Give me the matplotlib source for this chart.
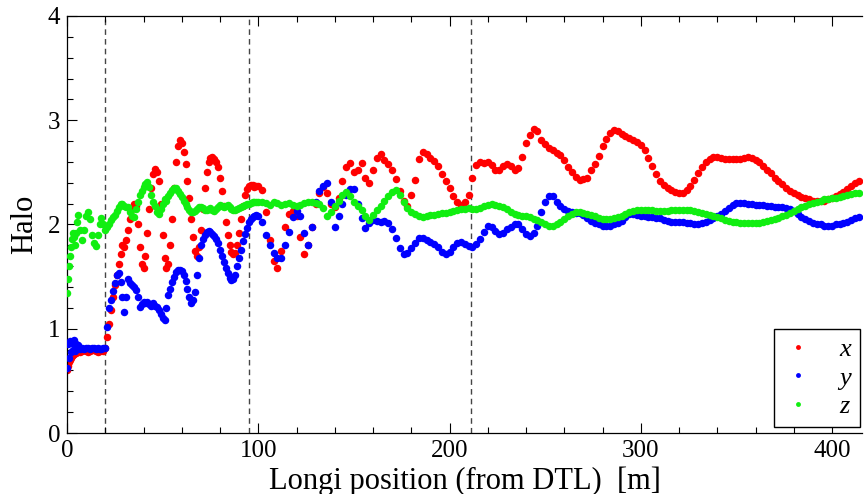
import matplotlib
matplotlib.use('Agg')
import matplotlib.pyplot as plt
from matplotlib.ticker import MultipleLocator

# sample positions along the linac [m]
pos_dtl = [0, 0.5, 1, 1.5, 2, 2.5, 3, 3.5, 4, 4.5, 5, 6, 7, 8, 9, 10, 11, 12, 13, 14, 15, 16, 17, 18, 19]
pos_mid = [20, 21, 22, 23, 24, 25, 26, 27, 28, 29, 30, 31, 32, 33, 34, 35, 36, 37, 38, 39,
           40, 41, 42, 43, 44, 45, 46, 47, 48, 49, 50, 51, 52, 53, 54, 55, 56, 57, 58, 59,
           60, 61, 62, 63, 64, 65, 66, 67, 68, 69, 70, 71, 72, 73, 74, 75, 76, 77, 78, 79,
           80, 81, 82, 83, 84, 85, 86, 87, 88, 89, 90, 91, 92, 93, 94, 95, 96, 97, 98, 99, 100]
pos_far = [102, 104, 106, 108, 110, 112, 114, 116, 118, 120, 122, 124, 126, 128, 130, 132, 134, 136, 138, 140,
           142, 144, 146, 148, 150, 152, 154, 156, 158, 160, 162, 164, 166, 168, 170, 172, 174, 176, 178, 180,
           182, 184, 186, 188, 190, 192, 194, 196, 198, 200, 202, 204, 206, 208, 210, 212, 214, 216, 218, 220,
           222, 224, 226, 228, 230, 232, 234, 236, 238, 240, 242, 244, 246, 248, 250, 252, 254, 256, 258, 260,
           262, 264, 266, 268, 270, 272, 274, 276, 278, 280, 282, 284, 286, 288, 290, 292, 294, 296, 298, 300,
           302, 304, 306, 308, 310, 312, 314, 316, 318, 320, 322, 324, 326, 328, 330, 332, 334, 336, 338, 340,
           342, 344, 346, 348, 350, 352, 354, 356, 358, 360, 362, 364, 366, 368, 370, 372, 374, 376, 378, 380,
           382, 384, 386, 388, 390, 392, 394, 396, 398, 400, 402, 404, 406, 408, 410, 412, 414]

halo_x = [0.60, 0.64, 0.68, 0.70, 0.72, 0.74, 0.75, 0.76, 0.77, 0.77, 0.78, 0.79, 0.78, 0.79, 0.80,
          0.79, 0.78, 0.79, 0.80, 0.80, 0.79, 0.78, 0.79, 0.80, 0.79,
          0.82, 0.92, 1.05, 1.18, 1.30, 1.42, 1.52, 1.62, 1.72, 1.80,
          1.78, 1.85, 1.95, 2.05, 2.15, 2.20, 2.18, 2.00, 1.78, 1.62,
          1.58, 1.70, 1.92, 2.15, 2.35, 2.48, 2.53, 2.50, 2.42, 2.20,
          1.90, 1.68, 1.58, 1.62, 1.80, 2.05, 2.35, 2.60, 2.75, 2.81,
          2.78, 2.70, 2.58, 2.42, 2.25, 2.05, 1.88, 1.75, 1.70, 1.78,
          1.95, 2.15, 2.35, 2.50, 2.60, 2.64, 2.65, 2.63, 2.60, 2.55,
          2.45, 2.32, 2.18, 2.02, 1.90, 1.80, 1.74, 1.72, 1.73, 1.80,
          1.92, 2.05, 2.18, 2.28, 2.34, 2.37, 2.38, 2.38, 2.36, 2.37,
          2.37,
          2.33, 2.12, 1.85, 1.65, 1.58, 1.75, 1.98, 2.10, 2.13, 2.08,
          1.88, 1.72, 1.80, 1.98, 2.20, 2.30, 2.36, 2.30, 2.20, 2.17,
          2.25, 2.42, 2.55, 2.59, 2.50, 2.52, 2.59, 2.45, 2.40, 2.52,
          2.64, 2.68, 2.62, 2.58, 2.52, 2.44, 2.32, 2.23, 2.18, 2.28,
          2.43, 2.63, 2.70, 2.68, 2.64, 2.61, 2.56, 2.48, 2.42, 2.35,
          2.27, 2.22, 2.19, 2.22, 2.28, 2.45, 2.57, 2.60, 2.59, 2.60,
          2.57, 2.52, 2.52, 2.56, 2.58, 2.56, 2.52, 2.54, 2.65, 2.78,
          2.86, 2.92, 2.90, 2.81, 2.77, 2.73, 2.71, 2.69, 2.67, 2.62,
          2.55, 2.50, 2.46, 2.43, 2.44, 2.45, 2.52, 2.58, 2.66, 2.75,
          2.82, 2.88, 2.91, 2.90, 2.87, 2.85, 2.83, 2.81, 2.79, 2.76,
          2.71, 2.64, 2.56, 2.48, 2.42, 2.38, 2.35, 2.33, 2.31, 2.30,
          2.30, 2.33, 2.37, 2.43, 2.49, 2.55, 2.60, 2.63, 2.65, 2.65,
          2.64, 2.63, 2.63, 2.63, 2.63, 2.63, 2.64, 2.65, 2.64, 2.62,
          2.60, 2.56, 2.52, 2.49, 2.45, 2.42, 2.39, 2.35, 2.32, 2.30,
          2.28, 2.26, 2.25, 2.24, 2.23, 2.23, 2.23, 2.23, 2.24, 2.25,
          2.27, 2.29, 2.31, 2.34, 2.37, 2.40, 2.42]

halo_y = [0.62, 0.85, 0.72, 0.88, 0.78, 0.86, 0.80, 0.89, 0.79, 0.85, 0.82, 0.84, 0.81, 0.82, 0.81,
          0.82, 0.82, 0.81, 0.82, 0.82, 0.81, 0.82, 0.81, 0.81, 0.82,
          0.82, 1.02, 1.20, 1.28, 1.36, 1.44, 1.52, 1.53, 1.45, 1.30,
          1.16, 1.30, 1.48, 1.44, 1.42, 1.40, 1.37, 1.30, 1.21, 1.24,
          1.26, 1.25, 1.26, 1.24, 1.22, 1.25, 1.22, 1.21, 1.18, 1.14,
          1.10, 1.08, 1.20, 1.32, 1.38, 1.45, 1.50, 1.54, 1.56, 1.56,
          1.55, 1.52, 1.46, 1.38, 1.30, 1.25, 1.28, 1.35, 1.52, 1.68,
          1.80, 1.86, 1.90, 1.93, 1.94, 1.93, 1.91, 1.89, 1.86, 1.82,
          1.76, 1.70, 1.64, 1.58, 1.53, 1.49, 1.47, 1.48, 1.52, 1.60,
          1.68, 1.76, 1.84, 1.91, 1.97, 2.02, 2.05, 2.07, 2.08, 2.09,
          2.08,
          2.02, 1.90, 1.80, 1.73, 1.68, 1.68, 1.80, 1.93, 2.07, 2.13,
          2.08, 1.92, 1.80, 1.98, 2.22, 2.32, 2.37, 2.40, 2.22, 1.98,
          2.08, 2.20, 2.28, 2.34, 2.34, 2.20, 2.06, 1.97, 2.01, 2.04,
          2.03, 2.02, 2.03, 2.01, 1.96, 1.87, 1.77, 1.72, 1.73, 1.77,
          1.82, 1.87, 1.87, 1.85, 1.83, 1.81, 1.78, 1.74, 1.72, 1.74,
          1.78, 1.82, 1.83, 1.81, 1.79, 1.78, 1.81, 1.86, 1.93, 1.99,
          1.98, 1.94, 1.91, 1.92, 1.96, 1.98, 2.00, 2.00, 1.96, 1.91,
          1.89, 1.92, 1.99, 2.12, 2.22, 2.27, 2.27, 2.22, 2.18, 2.15,
          2.13, 2.12, 2.11, 2.11, 2.09, 2.06, 2.03, 2.01, 2.00, 1.99,
          1.99, 1.99, 2.00, 2.01, 2.03, 2.07, 2.10, 2.10, 2.09, 2.08,
          2.08, 2.07, 2.07, 2.06, 2.06, 2.04, 2.03, 2.02, 2.02, 2.02,
          2.02, 2.01, 2.01, 2.00, 2.00, 2.01, 2.02, 2.04, 2.06, 2.08,
          2.10, 2.13, 2.16, 2.19, 2.21, 2.21, 2.21, 2.20, 2.20, 2.19,
          2.19, 2.19, 2.18, 2.18, 2.17, 2.17, 2.17, 2.16, 2.15, 2.13,
          2.10, 2.07, 2.05, 2.03, 2.01, 2.00, 2.00, 1.99, 1.99, 1.99,
          2.00, 2.00, 2.01, 2.02, 2.04, 2.06, 2.07]

halo_z = [1.34, 1.48, 1.60, 1.70, 1.78, 1.86, 1.92, 1.88, 1.80, 1.92, 2.02, 2.09, 1.95, 1.85, 1.95,
          2.08, 2.12, 2.05, 1.90, 1.82, 1.79, 1.90, 2.00, 2.06, 2.00,
          1.95, 1.98, 2.00, 2.04, 2.07, 2.09, 2.13, 2.17, 2.20, 2.20,
          2.18, 2.17, 2.17, 2.12, 2.08, 2.07, 2.15, 2.22, 2.28, 2.32,
          2.36, 2.39, 2.41, 2.36, 2.28, 2.22, 2.18, 2.12, 2.10, 2.15,
          2.20, 2.24, 2.23, 2.27, 2.30, 2.33, 2.35, 2.35, 2.32, 2.29,
          2.26, 2.23, 2.20, 2.17, 2.14, 2.12, 2.12, 2.13, 2.15, 2.17,
          2.17, 2.16, 2.14, 2.14, 2.15, 2.16, 2.14, 2.13, 2.15, 2.17,
          2.19, 2.18, 2.17, 2.18, 2.19, 2.17, 2.15, 2.14, 2.14, 2.15,
          2.16, 2.17, 2.18, 2.19, 2.20, 2.20, 2.21, 2.22, 2.22, 2.22,
          2.22,
          2.22, 2.21, 2.19, 2.22, 2.21, 2.19, 2.20, 2.21, 2.19, 2.18,
          2.19, 2.21, 2.22, 2.22, 2.21, 2.20, 2.16, 2.08, 2.12, 2.18,
          2.23, 2.28, 2.31, 2.27, 2.22, 2.18, 2.14, 2.08, 2.04, 2.09,
          2.14, 2.18, 2.23, 2.27, 2.31, 2.33, 2.28, 2.22, 2.16, 2.12,
          2.10, 2.08, 2.07, 2.08, 2.09, 2.09, 2.10, 2.11, 2.11, 2.12,
          2.13, 2.14, 2.15, 2.15, 2.16, 2.15, 2.15, 2.16, 2.18, 2.19,
          2.20, 2.19, 2.18, 2.17, 2.15, 2.12, 2.10, 2.09, 2.08, 2.08,
          2.07, 2.05, 2.04, 2.02, 2.00, 1.99, 1.99, 2.00, 2.02, 2.05,
          2.08, 2.10, 2.12, 2.12, 2.11, 2.10, 2.09, 2.08, 2.06, 2.05,
          2.05, 2.05, 2.06, 2.07, 2.08, 2.10, 2.12, 2.13, 2.14, 2.14,
          2.14, 2.14, 2.14, 2.13, 2.13, 2.13, 2.13, 2.14, 2.14, 2.14,
          2.14, 2.14, 2.14, 2.13, 2.12, 2.11, 2.10, 2.09, 2.08, 2.07,
          2.06, 2.04, 2.03, 2.02, 2.02, 2.01, 2.01, 2.01, 2.01, 2.01,
          2.01, 2.02, 2.03, 2.04, 2.05, 2.06, 2.08, 2.09, 2.11, 2.13,
          2.15, 2.17, 2.18, 2.20, 2.21, 2.22, 2.23, 2.24, 2.24, 2.25,
          2.25, 2.26, 2.27, 2.28, 2.29, 2.30, 2.30]

# section boundaries (dashed)
boundaries = [20, 95, 211]

pos = pos_dtl + pos_mid + pos_far

plt.rcParams['font.family'] = ['Liberation Serif', 'DejaVu Serif']

fig = plt.figure(figsize=(8.65, 4.94), dpi=100)
ax = fig.add_axes([67 / 865, 1 - 433 / 494, (862 - 67) / 865, (433 - 16) / 494])

for b in boundaries:
    ax.axvline(b, color='#444444', lw=1.0, ls=(0, (4, 3)), zorder=1)

ms = 5.4
ax.plot(pos, halo_x, 'o', color='#ff0000', ms=ms, mew=0, label='x', zorder=2)
ax.plot(pos, halo_y, 'o', color='#0000ff', ms=ms, mew=0, label='y', zorder=3)
ax.plot(pos, halo_z, 'o', color='#11ee11', ms=ms, mew=0, label='z', zorder=4)

ax.set_xlim(0, (862 - 67) / 1.9125)
ax.set_ylim(0, 4)
ax.set_xticks([0, 100, 200, 300, 400])
ax.set_yticks([0, 1, 2, 3, 4])
ax.xaxis.set_minor_locator(MultipleLocator(20))
ax.yaxis.set_minor_locator(MultipleLocator(0.2))
ax.tick_params(which='both', direction='in', top=True, right=False, width=0.8, labelsize=18)
ax.tick_params(which='major', length=7, pad=5)
ax.tick_params(which='minor', length=4)
ax.spines['right'].set_visible(False)
for s in ['left', 'bottom', 'top']:
    ax.spines[s].set_linewidth(0.9)

ax.set_xlabel('Longi position (from DTL)  [m]', fontsize=22, labelpad=3)
ax.set_ylabel('Halo', fontsize=22, labelpad=6)

leg = ax.legend(loc='lower right', bbox_to_anchor=(860 / 865, 1 - 427 / 494),
                bbox_transform=fig.transFigure, borderaxespad=0, fancybox=False,
                edgecolor='black', framealpha=1, markerscale=0.65,
                prop={'style': 'italic', 'size': 19}, handlelength=1.1,
                handletextpad=1.0, labelspacing=0.18, borderpad=0.35)
leg.get_frame().set_linewidth(1.0)

fig.savefig('out.png', dpi=100)
